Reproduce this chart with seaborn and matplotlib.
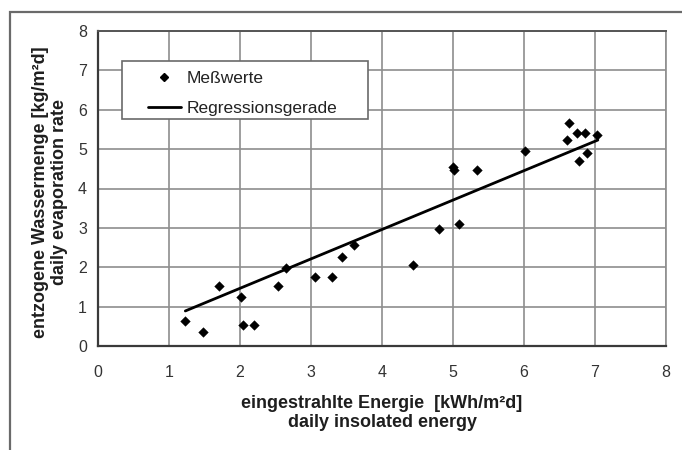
import numpy as np
import pandas as pd
import matplotlib
matplotlib.use('Agg')
import matplotlib.pyplot as plt
import seaborn as sns
from matplotlib.lines import Line2D
from matplotlib.patches import Rectangle

energie = [1.23, 1.48, 1.70, 2.02, 2.04, 2.20, 2.53, 2.65, 3.06, 3.30, 3.44, 3.61,
           4.43, 4.80, 5.08, 5.00, 5.02, 5.34, 6.01, 6.60, 6.64, 6.74, 6.78, 6.86,
           6.89, 7.03]
verdunstung = [0.64, 0.36, 1.53, 1.25, 0.53, 0.53, 1.53, 1.97, 1.74, 1.74, 2.25, 2.56,
               2.06, 2.98, 3.09, 4.55, 4.48, 4.47, 4.96, 5.22, 5.67, 5.42, 4.69, 5.40,
               4.91, 5.37]

# Regressionsgerade (Endpunkte)
reg_x = [1.23, 7.04]
reg_y = [0.89, 5.23]

x_ticks = [0, 1, 2, 3, 4, 5, 6, 7, 8]
y_ticks = [0, 1, 2, 3, 4, 5, 6, 7, 8]

sns.set_style('white')
plt.rcParams['font.family'] = ['Liberation Sans', 'DejaVu Sans']

df = pd.DataFrame({'x': energie, 'y': verdunstung})
reg = pd.DataFrame({'x': reg_x, 'y': reg_y})

W, H = 682, 450
fig = plt.figure(figsize=(W / 100, H / 100), dpi=100)
ax = fig.add_axes([98 / W, 1 - 346 / H, (666 - 98) / W, (346 - 31) / H])

# Rahmen des Diagrammbereichs
fig.patches.append(Rectangle((10 / W, -0.05), 1.0, 1 - 12 / H + 0.05,
                             transform=fig.transFigure, fill=False,
                             edgecolor='#6a6a6a', linewidth=1.6))

sns.scatterplot(data=df, x='x', y='y', ax=ax, marker='D', s=24,
                color='black', edgecolor='black', linewidth=0.3, zorder=3)
sns.lineplot(data=reg, x='x', y='y', ax=ax, color='black', linewidth=2.0, zorder=3)

ax.set_xlim(0, 8)
ax.set_ylim(0, 8)
ax.set_xticks(x_ticks)
ax.set_yticks(y_ticks)
ax.grid(True, color='#8e8e8e', linewidth=1.2)
ax.set_axisbelow(True)
ax.spines['top'].set_color('#555555')
ax.spines['top'].set_linewidth(1.4)
ax.spines['right'].set_color('#8e8e8e')
ax.spines['right'].set_linewidth(1.2)
for side in ['left', 'bottom']:
    ax.spines[side].set_color('#3a3a3a')
    ax.spines[side].set_linewidth(1.6)
ax.tick_params(axis='both', direction='inout', length=8, width=1.4,
               color='#3a3a3a', labelsize=11.5, labelcolor='#333333')
ax.tick_params(axis='x', pad=10)
ax.tick_params(axis='y', pad=4)

ax.set_xlabel('eingestrahlte Energie  [kWh/m²d]\ndaily insolated energy',
              fontsize=13, fontweight='bold', color='#1e1e1e', linespacing=1.15)
ax.set_ylabel('entzogene Wassermenge [kg/m²d]\ndaily evaporation rate',
              fontsize=13, fontweight='bold', color='#1e1e1e', linespacing=1.15)
ax.xaxis.set_label_coords(0.5, -0.156)
ax.yaxis.set_label_coords(-0.053, 0.489)

# Legende mit Excel-artigem Rahmen
ax.add_patch(Rectangle((0.0423, 0.7206), 0.433, 0.184, transform=ax.transAxes,
                       facecolor='white', edgecolor='#6a6a6a', linewidth=1.2,
                       zorder=4))
handles = [
    Line2D([], [], marker='D', color='black', linestyle='none', markersize=4),
    Line2D([], [], color='black', linewidth=2.0),
]
leg = ax.legend(handles, ['Meßwerte', 'Regressionsgerade'], loc='upper left',
                bbox_to_anchor=(0.088, 0.874), frameon=False, fontsize=12.5,
                handlelength=1.9, borderpad=0, borderaxespad=0,
                labelspacing=0.84, handletextpad=0.3)
leg.set_zorder(5)
for t in leg.get_texts():
    t.set_color('#222222')

fig.savefig('out.png', dpi=100)
